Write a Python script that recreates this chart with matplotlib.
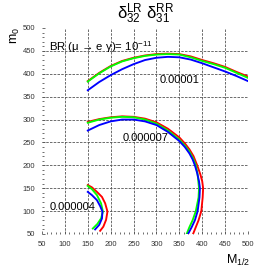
import numpy as np
import matplotlib.pyplot as plt
from matplotlib.ticker import MultipleLocator

plt.rcParams['font.family'] = ['Liberation Sans', 'DejaVu Sans']
plt.rcParams['mathtext.fontset'] = 'custom'
plt.rcParams['mathtext.rm'] = 'Liberation Sans'
plt.rcParams['mathtext.it'] = 'Liberation Sans:italic'

# contour BR = 1e-11, delta = 0.00001
top_x = [150, 175, 200, 225, 250, 275, 300, 325, 350, 375, 400, 425, 450, 475, 500]
top_red = [384, 402, 417, 428, 435, 440, 443, 444, 443, 438, 430, 423, 415, 404, 394]
top_green = [383, 401, 416, 427, 434, 439, 442, 443, 442, 436, 428, 421, 413, 402, 391]
top_blue = [364, 382, 397, 410, 421, 430, 435, 437, 436, 431, 423, 414, 405, 395, 384]

# delta = 0.000007
mid_red_x = [150, 175, 200, 225, 250, 275, 300, 325, 350, 362, 372, 381, 389, 396, 400, 402, 401, 398, 392, 386, 380]
mid_red_y = [295, 301, 305, 307, 306, 302, 294, 280, 261, 248, 235, 220, 200, 180, 165, 150, 130, 100, 80, 65, 50]
mid_green_x = [150, 175, 200, 225, 250, 275, 300, 325, 350, 362, 372, 380, 386, 390, 393, 392, 386, 379, 372, 366]
mid_green_y = [293, 300, 304, 306, 305, 300, 291, 276, 256, 243, 230, 215, 200, 180, 150, 130, 100, 80, 65, 50]
mid_blue_x = [150, 175, 200, 225, 250, 275, 300, 325, 350, 362, 372, 379, 384, 389, 393, 395, 394, 390, 384, 377, 369]
mid_blue_y = [276, 288, 296, 300, 300, 296, 288, 273, 253, 240, 226, 213, 200, 183, 165, 150, 130, 100, 80, 65, 50]

# delta = 0.000004
low_red_x = [150, 159, 170, 181, 188, 193, 190, 184, 177]
low_red_y = [157, 152, 142, 131, 117, 99, 81, 66, 57]
low_green_x = [150, 159, 170, 179, 183, 179, 171, 161]
low_green_y = [155, 148, 135, 117, 99, 84, 72, 62]
low_blue_x = [150, 159, 170, 177, 182, 181, 175, 166]
low_blue_y = [142, 135, 124, 111, 99, 84, 70, 60]

labels = ['0.00001', '0.000007', '0.000004']
label_pos = [(308, 386), (227, 260), (66, 109)]

fig = plt.figure(figsize=(2.76, 2.76), dpi=100)
ax = fig.add_axes([42 / 276, 42 / 276, 206 / 276, 206 / 276])

lw = 1.35
ax.plot(top_x, top_red, color='#ff0000', lw=lw)
ax.plot(top_x, top_green, color='#00ff00', lw=lw)
ax.plot(top_x, top_blue, color='#0000ff', lw=lw)
ax.plot(mid_red_x, mid_red_y, color='#ff0000', lw=lw)
ax.plot(mid_green_x, mid_green_y, color='#00ff00', lw=lw)
ax.plot(mid_blue_x, mid_blue_y, color='#0000ff', lw=lw)
ax.plot(low_red_x, low_red_y, color='#ff0000', lw=lw)
ax.plot(low_green_x, low_green_y, color='#00ff00', lw=lw)
ax.plot(low_blue_x, low_blue_y, color='#0000ff', lw=lw)

for txt, (x, y) in zip(labels, label_pos):
    ax.text(x, y, txt, fontsize=8, va='center', ha='left')

ax.text(66, 458, 'BR (μ → e γ)= 10$^{-11}$', fontsize=8.2, va='center', ha='left')

ax.set_xlim(50, 500)
ax.set_ylim(50, 500)
ax.set_xticks(np.arange(50, 501, 50))
ax.set_yticks(np.arange(50, 501, 50))
ax.xaxis.set_minor_locator(MultipleLocator(10))
ax.yaxis.set_minor_locator(MultipleLocator(10))
ax.tick_params(which='both', direction='in', labelsize=5.5, labelcolor='#333333',
               color='#555555', width=0.6)
ax.tick_params(which='major', length=2.5, pad=5)
ax.tick_params(which='minor', length=1.6)
for s in ax.spines.values():
    s.set_visible(False)

ax.grid(True, which='major', color='#555555', lw=0.6, linestyle=(0, (3, 1.5)))
for gl in [ax.xaxis.get_gridlines()[0], ax.xaxis.get_gridlines()[-1],
           ax.yaxis.get_gridlines()[0], ax.yaxis.get_gridlines()[-1]]:
    gl.set_visible(False)

fig.text(146 / 276, 1 - 14 / 276, r'$\mathrm{\delta^{LR}_{32}\ \delta^{RR}_{31}}$',
         fontsize=12, ha='center', va='center')
fig.text(15 / 276, 1 - 35 / 276, r'$\mathrm{m_0}$', fontsize=9, rotation=90,
         ha='center', va='center')
fig.text(238 / 276, 1 - 260 / 276, r'$\mathrm{M_{1/2}}$', fontsize=9,
         ha='center', va='center')

fig.savefig('out.png', dpi=100)
